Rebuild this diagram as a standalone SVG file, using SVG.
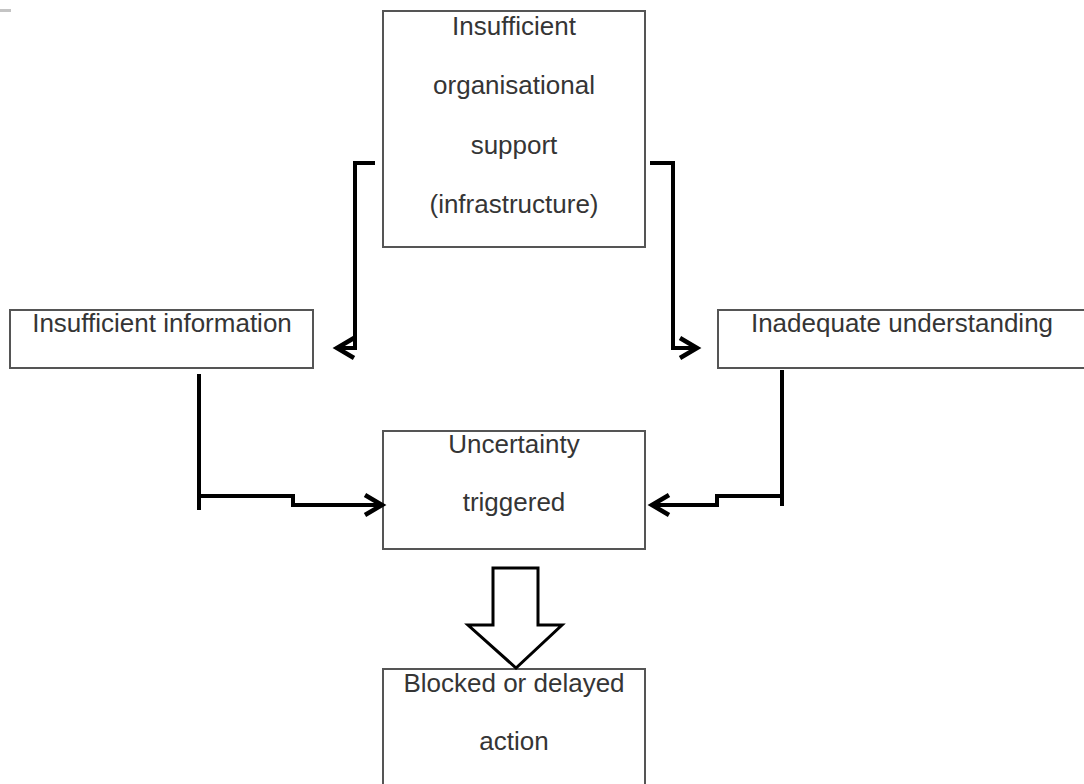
<svg xmlns="http://www.w3.org/2000/svg" width="1084" height="784" viewBox="0 0 1084 784">
  <style>
    .box { fill: #ffffff; stroke: #555555; stroke-width: 2; }
    .label { font-family: "Liberation Sans", Arial, sans-serif; font-size: 26px; fill: #353535; text-anchor: middle; }
    .conn { fill: none; stroke: #000000; stroke-width: 4; stroke-linejoin: miter; }
  </style>
  <defs>
    <!-- open chevron arrowhead -->
    <marker id="chev" markerUnits="userSpaceOnUse" markerWidth="30" markerHeight="30" viewBox="-22 -15 30 30" refX="0" refY="0" orient="auto">
      <path d="M-17,-10 L0,0 L-17,10" fill="none" stroke="#000" stroke-width="4.5" stroke-linejoin="miter"/>
    </marker>
  </defs>

  <rect width="1084" height="784" fill="#ffffff"/>
  <rect x="0" y="9" width="11" height="3" fill="#c4c4c4"/>

  <g id="node-support">
    <rect class="box" x="383" y="11" width="262" height="236"/>
    <text class="label" x="514" y="35">Insufficient</text>
    <text class="label" x="514" y="94">organisational</text>
    <text class="label" x="514" y="154">support</text>
    <text class="label" x="514" y="213">(infrastructure)</text>
  </g>

  <g id="node-information">
    <rect class="box" x="10" y="310" width="303" height="58"/>
    <text class="label" x="162" y="332">Insufficient information</text>
  </g>

  <g id="node-understanding">
    <rect class="box" x="718" y="310" width="370" height="58"/>
    <text class="label" x="902" y="332">Inadequate  understanding</text>
  </g>

  <g id="node-uncertainty">
    <rect class="box" x="383" y="431" width="262" height="118"/>
    <text class="label" x="514" y="453">Uncertainty</text>
    <text class="label" x="514" y="511">triggered</text>
  </g>

  <g id="node-blocked">
    <rect class="box" x="383" y="669" width="262" height="130"/>
    <text class="label" x="514" y="692">Blocked or delayed</text>
    <text class="label" x="514" y="750">action</text>
  </g>

  <g id="connectors">
    <path class="conn" d="M375,163 H355 V348 H337" marker-end="url(#chev)"/>
    <path class="conn" d="M650,163 H673 V348 H697" marker-end="url(#chev)"/>
    <path class="conn" d="M199,374 V510"/>
    <path class="conn" d="M199,496 H293 V505 H382" marker-end="url(#chev)"/>
    <path class="conn" d="M782,370 V506"/>
    <path class="conn" d="M782,496 H717 V505 H652" marker-end="url(#chev)"/>
    <polygon points="493,568 538,568 538,625 562,625 516,668 468,625 493,625" fill="#ffffff" stroke="#000000" stroke-width="3" stroke-linejoin="miter"/>
  </g>
</svg>
